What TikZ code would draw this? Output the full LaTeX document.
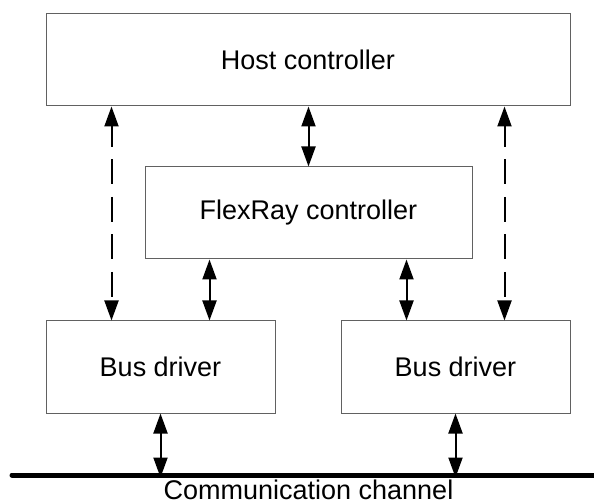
\documentclass[tikz,border=0pt]{standalone}
\usepackage{fontspec}
\setmainfont{Liberation Sans}
\usetikzlibrary{arrows.meta}
\begin{document}
\begin{tikzpicture}[x=1pt,y=-1pt,
  block/.style={draw=black!62, line width=1pt, fill=white, inner sep=0pt,
    minimum height=92pt, font=\fontsize{27}{32}\selectfont},
  link/.style={line width=2pt, {Triangle[length=20pt,width=14pt]}-{Triangle[length=20pt,width=14pt]}},
  dashlink/.style={link, dash pattern=on 25pt off 12.5pt, dash phase=4pt},
  channel/.style={line width=5pt, line cap=round}]
  \useasboundingbox (0,0) rectangle (594,502);

  % blocks
  \node[block, minimum width=524pt] (host) at (308,60) {Host controller};
  \node[block, minimum width=327pt] (flex) at (308.5,213) {FlexRay controller};
  \node[block, minimum width=229pt] (busL) at (160.5,367) {Bus driver};
  \node[block, minimum width=229pt] (busR) at (455.5,367) {Bus driver};

  % communication channel
  \coordinate (chL) at (12,475);
  \coordinate (chR) at (600,475);
  \draw[channel] (chL) -- (chR);
  \node[anchor=base, font=\fontsize{27}{32}\selectfont, inner sep=0pt] (chlabel) at (308.5,499.5) {Communication channel};

  % host <-> FlexRay controller
  \draw[link] (host.south -| flex.north) -- (flex.north);

  % FlexRay controller <-> bus drivers
  \coordinate (fl) at ([xshift=49pt]busL.north);
  \coordinate (fr) at ([xshift=-49pt]busR.north);
  \draw[link] (fl |- flex.south) -- (fl);
  \draw[link] (fr |- flex.south) -- (fr);

  % host <-> bus drivers (dashed)
  \coordinate (hl) at ([xshift=-49pt]busL.north);
  \coordinate (hr) at ([xshift=49pt]busR.north);
  \draw[dashlink] (hl |- host.south) -- (hl);
  \draw[dashlink] (hr |- host.south) -- (hr);

  % bus drivers <-> channel
  \coordinate (tl) at ([yshift=-2.5pt]busL.south |- chL);
  \coordinate (tr) at ([yshift=-2.5pt]busR.south |- chL);
  \draw[link] (busL.south) -- (tl);
  \draw[link] (busR.south) -- (tr);
\end{tikzpicture}
\end{document}
